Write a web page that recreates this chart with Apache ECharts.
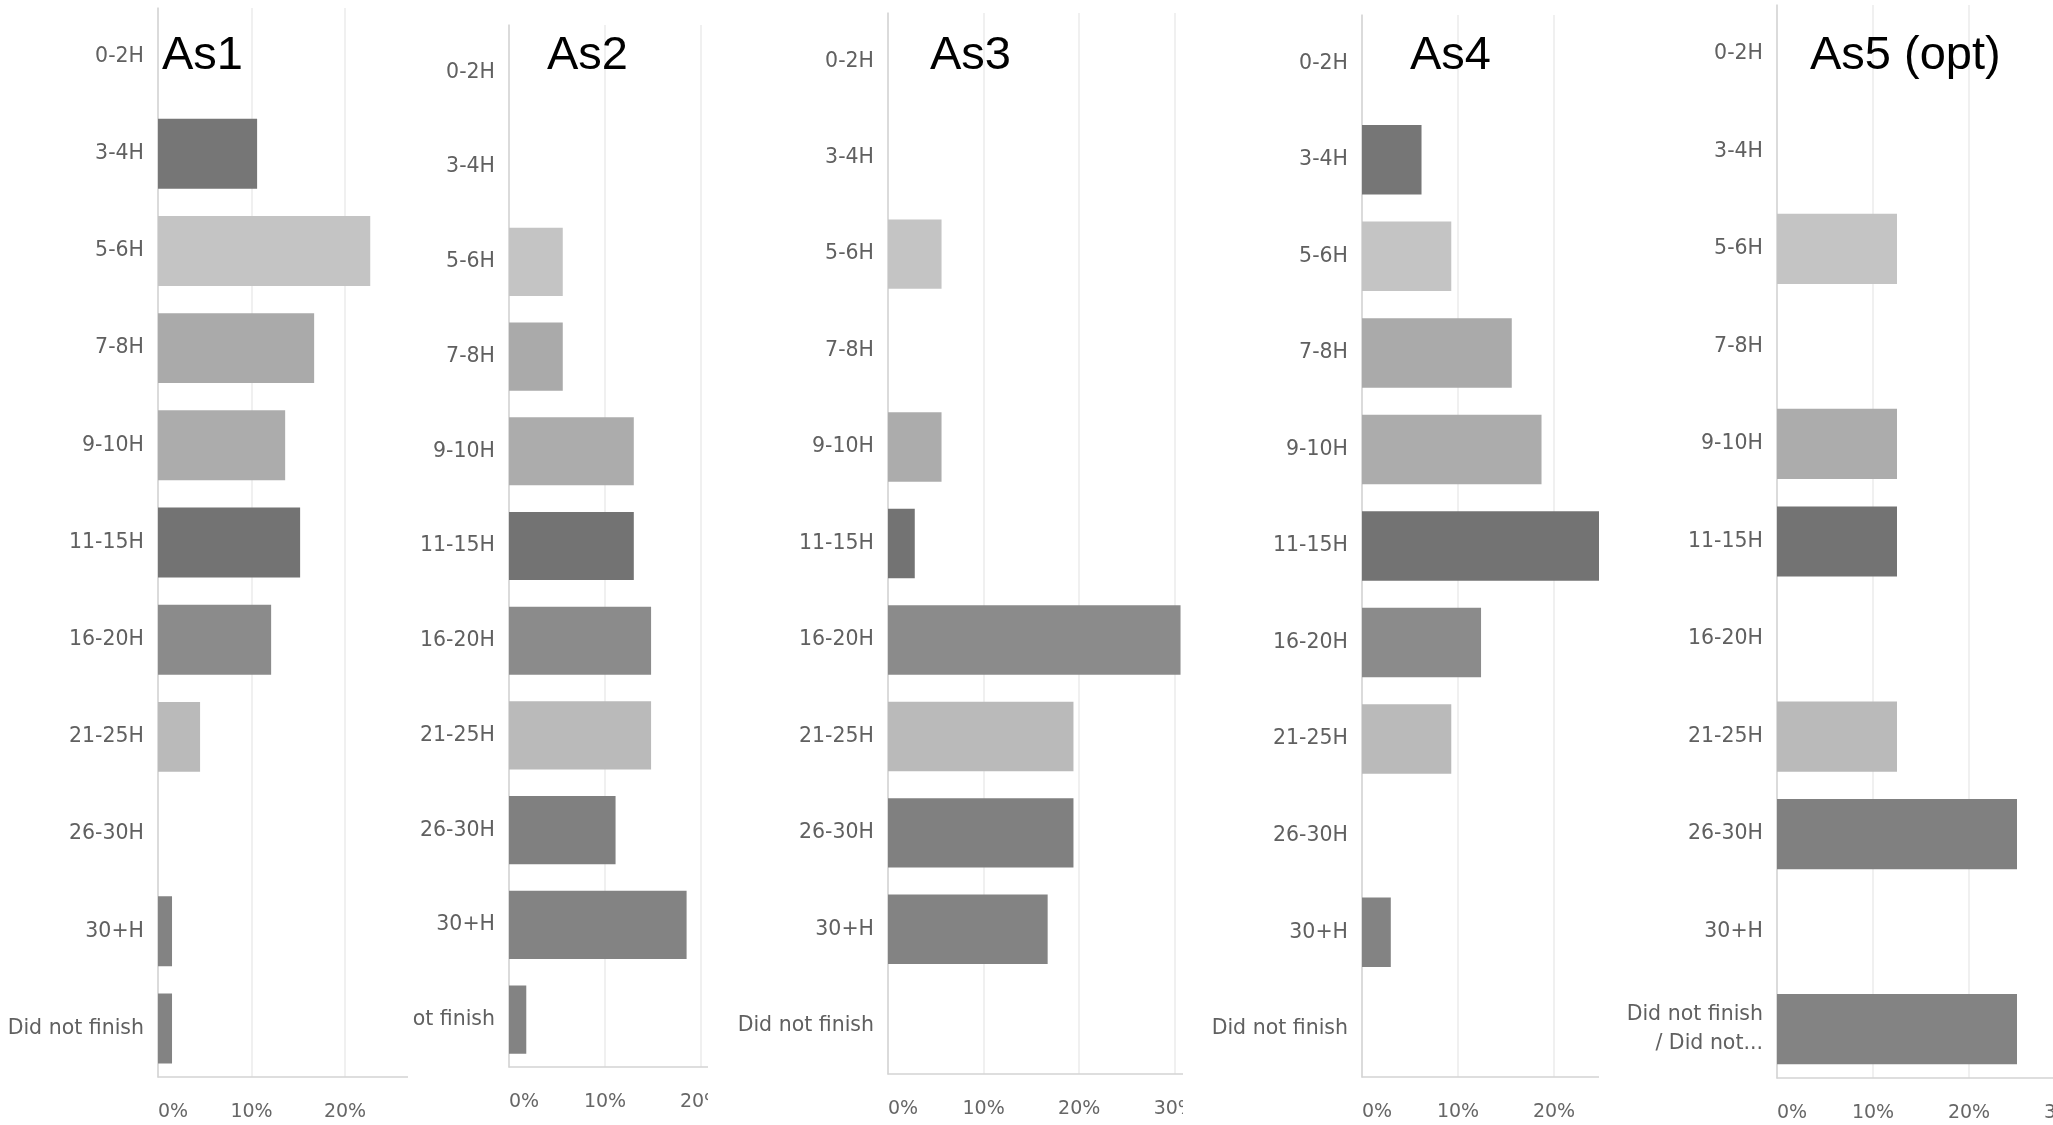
<!DOCTYPE html>
<html>
<head>
<meta charset="utf-8">
<title>Hours per assignment</title>
<script src="https://cdn.jsdelivr.net/npm/echarts@6/dist/echarts.min.js"></script>
<style>
  html, body { margin: 0; padding: 0; background: #fff; overflow: hidden; }
  .panel { position: absolute; top: 0; height: 1125px; }
</style>
</head>
<body>
<div id="p1" class="panel" style="left:0;width:408px"></div>
<div id="p2" class="panel" style="left:411px;width:297px"></div>
<div id="p3" class="panel" style="left:708px;width:475px"></div>
<div id="p4" class="panel" style="left:1183px;width:416px"></div>
<div id="p5" class="panel" style="left:1599px;width:454px"></div>
<script>
// categories (top to bottom)
var categories = ['0-2H', '3-4H', '5-6H', '7-8H', '9-10H', '11-15H', '16-20H', '21-25H', '26-30H', '30+H', 'Did not finish'];
var as5LastLabel = 'Did not finish\n/ Did not...';

// share of students (%) per category
var as1 = [0, 10.6, 22.7, 16.7, 13.6, 15.2, 12.1, 4.5, 0, 1.5, 1.5];
var as2 = [0, 0, 5.6, 5.6, 13.0, 13.0, 14.8, 14.8, 11.1, 18.5, 1.8];
var as3 = [0, 0, 5.6, 0, 5.6, 2.8, 30.6, 19.4, 19.4, 16.7, 0];
var as4 = [0, 6.2, 9.3, 15.6, 18.7, 25.0, 12.4, 9.3, 0, 3.0, 0];
var as5 = [0, 0, 12.5, 0, 12.5, 12.5, 0, 12.5, 25.0, 0, 25.0];

var xTicks = [0, 10, 20, 30, 40];

// one grey per category
var barColors = ['#999999', '#767676', '#c4c4c4', '#aaaaaa', '#acacac', '#737373', '#8b8b8b', '#bababa', '#808080', '#838383', '#838383'];

var panels = [
  { id: 'p1', title: 'As1', data: as1, titleLeft: 162, left: 158, top: 8, height: 1069, step: 93.5 },
  { id: 'p2', title: 'As2', data: as2, titleLeft: 136, left: 98, top: 25, height: 1042, step: 96 },
  { id: 'p3', title: 'As3', data: as3, titleLeft: 222, left: 180, top: 13, height: 1061, step: 95.6 },
  { id: 'p4', title: 'As4', data: as4, titleLeft: 227, left: 179, top: 15, height: 1062, step: 96 },
  { id: 'p5', title: 'As5 (opt)', data: as5, titleLeft: 211, left: 178, top: 5, height: 1073, step: 96 }
];

panels.forEach(function (p) {
  var cats = categories.slice();
  if (p.id === 'p5') {
    cats[cats.length - 1] = as5LastLabel;
  }

  var chart = echarts.init(document.getElementById(p.id), null, { renderer: 'canvas' });

  chart.setOption({
    animation: false,
    title: {
      text: p.title,
      left: p.titleLeft,
      top: 33,
      padding: 0,
      textStyle: { fontFamily: 'Liberation Sans, Arial, sans-serif', fontSize: 47, fontWeight: 'normal', color: '#000' }
    },
    grid: {
      left: p.left,
      top: p.top,
      height: p.height,
      width: p.step * (xTicks.length - 1),
      containLabel: false,
      outerBoundsMode: 'none'
    },
    xAxis: {
      type: 'value',
      min: xTicks[0],
      max: xTicks[xTicks.length - 1],
      interval: 10,
      axisLine: { show: true, lineStyle: { color: '#d4d4d4', width: 1.5 } },
      axisTick: { show: false },
      splitLine: { show: true, lineStyle: { color: '#ebebeb', width: 1.5 } },
      axisLabel: {
        margin: 26,
        fontFamily: 'DejaVu Sans, sans-serif',
        fontSize: 19,
        color: '#666666',
        alignMinLabel: 'left',
        formatter: function (v) { return v + '%'; }
      }
    },
    yAxis: {
      type: 'category',
      data: cats,
      inverse: true,
      axisLine: { show: true, lineStyle: { color: '#d4d4d4', width: 1.5 } },
      axisTick: { show: false },
      splitLine: { show: false },
      axisLabel: {
        margin: 14,
        fontFamily: 'DejaVu Sans, sans-serif',
        fontSize: 20.5,
        lineHeight: 29,
        color: '#606060',
        align: 'right'
      }
    },
    series: [{
      type: 'bar',
      data: p.data,
      barCategoryGap: '28%',
      silent: true,
      itemStyle: {
        color: function (params) { return barColors[params.dataIndex]; }
      }
    }]
  });
});
</script>
</body>
</html>
